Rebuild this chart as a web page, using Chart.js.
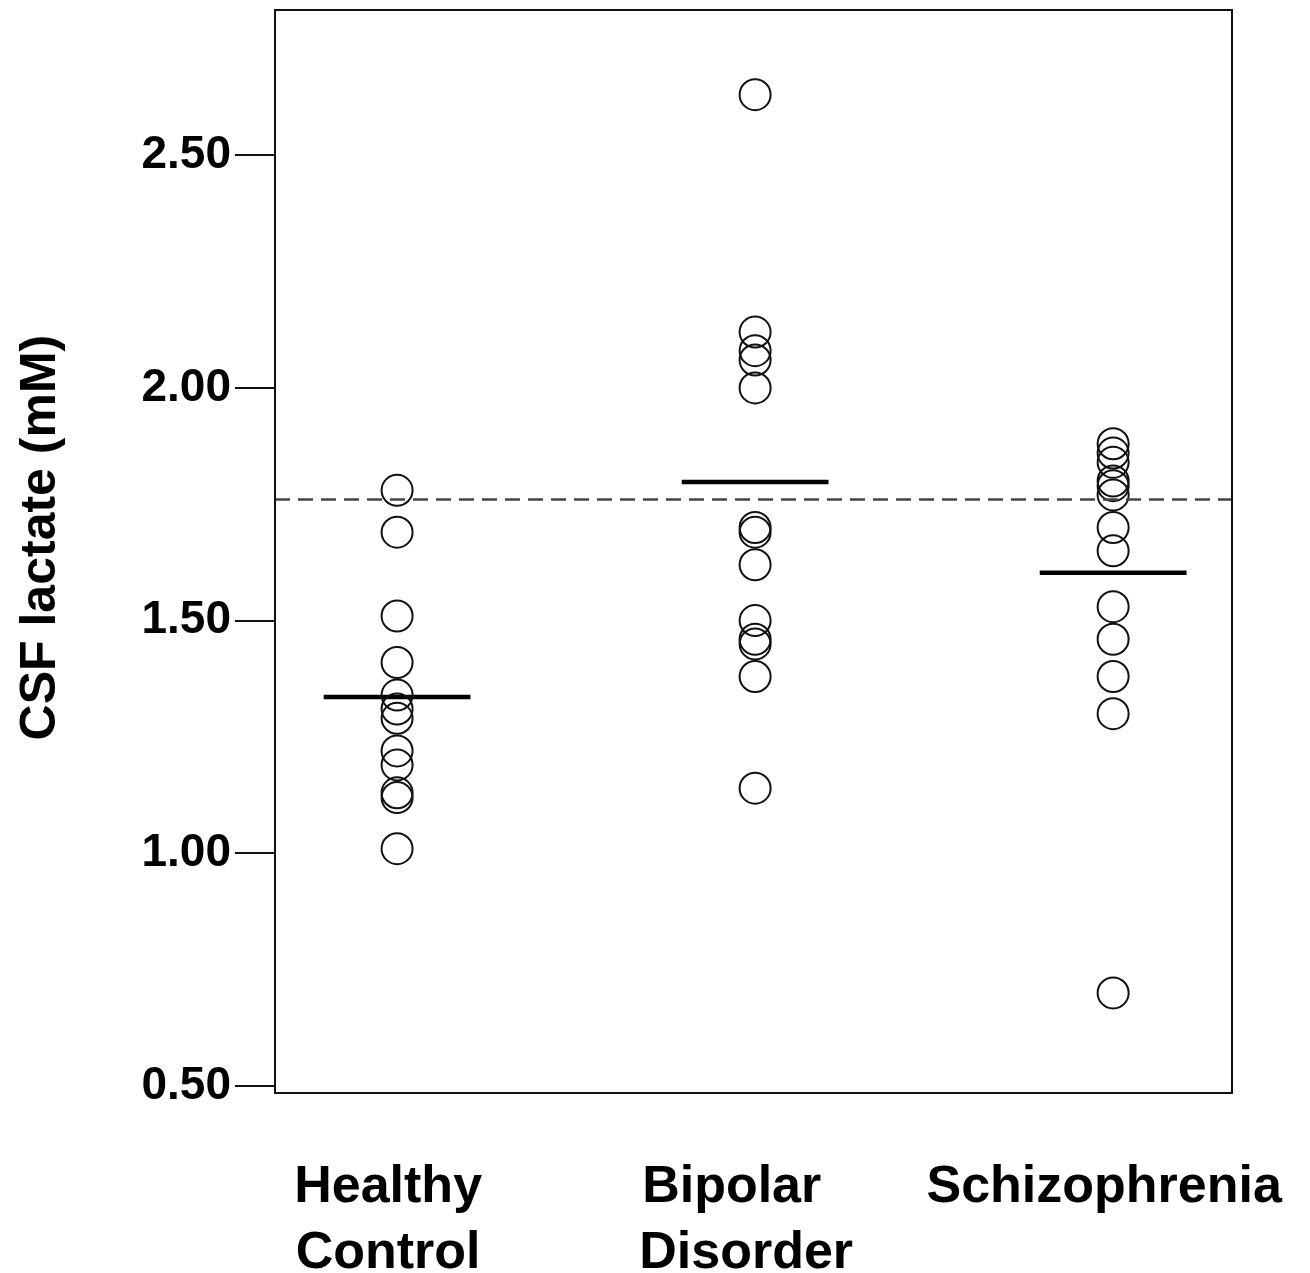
<!DOCTYPE html>
<html>
<head>
<meta charset="utf-8">
<title>CSF lactate</title>
<script src="https://cdn.jsdelivr.net/npm/chart.js@4.4.1/dist/chart.umd.min.js"></script>
<style>
    body { margin: 0; background: #ffffff; }
    #wrap { width: 1310px; height: 1273px; }
</style>
</head>
<body>
<div id="wrap"><canvas id="lactate_chart" width="1310" height="1273"></canvas></div>
<script>
// groups on the x axis (1, 2, 3)
var group_labels = [['Healthy', 'Control'], ['Bipolar  ', 'Disorder'], ['Schizophrenia']];
var group_positions = [1, 2, 3];

// CSF lactate per subject (mM)
var healthy_values = [1.78, 1.69, 1.51, 1.41, 1.34, 1.31, 1.29, 1.22, 1.19, 1.13, 1.12, 1.01];
var bipolar_values = [2.63, 2.12, 2.08, 2.06, 2.00, 1.70, 1.69, 1.62, 1.50, 1.46, 1.45, 1.38, 1.14];
var schizo_values = [1.88, 1.86, 1.84, 1.80, 1.79, 1.77, 1.70, 1.65, 1.53, 1.46, 1.38, 1.30, 0.70];

// group means (solid bars) and the dashed reference level
var group_means = [1.336, 1.798, 1.603];
var reference_level = 1.76;

var y_ticks = [0.5, 1.0, 1.5, 2.0, 2.5];
var y_min = 0.485;
var y_max = 2.812;
var x_min = 0.659;
var x_max = 3.332;
var mean_half_width = 0.205;
var label_shift = 0.025;

var font_family = '"Liberation Sans", Arial, Helvetica, sans-serif';

function points_for(group_index, values)
{
    return values.map(v => ({ x: group_positions[group_index], y: v }));
}

function mean_segment(group_index)
{
    var c = group_positions[group_index];
    return [
        { x: c - mean_half_width, y: group_means[group_index] },
        { x: c + mean_half_width, y: group_means[group_index] }
    ];
}

function circle_dataset(name, data)
{
    return {
        type: 'scatter',
        label: name,
        data: data,
        pointStyle: 'circle',
        pointRadius: 15.5,
        pointHoverRadius: 15.5,
        pointBorderWidth: 2,
        pointBackgroundColor: 'rgba(0,0,0,0)',
        pointBorderColor: '#111111',
        xAxisID: 'x',
        yAxisID: 'y'
    };
}

function line_dataset(name, data, width, color, dash)
{
    return {
        type: 'line',
        label: name,
        data: data,
        borderColor: color,
        borderWidth: width,
        borderDash: dash,
        pointRadius: 0,
        fill: false,
        xAxisID: 'x',
        yAxisID: 'y'
    };
}

// the scales reserve room for half a label at their ends; this figure does not
function no_end_padding(axis)
{
    axis.paddingTop = 0;
    axis.paddingBottom = 0;
    axis.paddingLeft = 0;
    axis.paddingRight = 0;
}

// plain box around the plot area
var frame_plugin = {
    id: 'frame',
    afterDraw(chart)
    {
        var a = chart.chartArea;
        var ctx = chart.ctx;
        ctx.save();
        ctx.strokeStyle = '#111111';
        ctx.lineWidth = 2;
        ctx.strokeRect(a.left, a.top, a.right - a.left, a.bottom - a.top);
        ctx.restore();
    }
};

var datasets = [
    line_dataset('reference', [{ x: x_min, y: reference_level }, { x: x_max, y: reference_level }], 2.5, '#444444', [15, 8]),
    circle_dataset('Healthy Control', points_for(0, healthy_values)),
    circle_dataset('Bipolar Disorder', points_for(1, bipolar_values)),
    circle_dataset('Schizophrenia', points_for(2, schizo_values)),
    line_dataset('mean HC', mean_segment(0), 4.5, '#000000', []),
    line_dataset('mean BD', mean_segment(1), 4.5, '#000000', []),
    line_dataset('mean SZ', mean_segment(2), 4.5, '#000000', [])
];

var chart_config = {
    data: { datasets: datasets },
    plugins: [frame_plugin],
    options: {
        responsive: false,
        animation: false,
        events: [],
        layout: {
            autoPadding: false,
            padding: { left: 0, top: 10, right: 78, bottom: 0 }
        },
        plugins: {
            legend: { display: false },
            tooltip: { enabled: false },
            title: { display: false }
        },
        scales: {
            x: {
                type: 'linear',
                min: x_min,
                max: x_max,
                display: false
            },
            xl: {
                type: 'linear',
                position: 'bottom',
                min: x_min + label_shift,
                max: x_max + label_shift,
                afterBuildTicks: axis => { axis.ticks = group_positions.map(v => ({ value: v })); },
                afterFit: axis => { axis.height = 180; no_end_padding(axis); },
                grid: { display: false, drawTicks: false },
                border: { display: false },
                ticks: {
                    autoSkip: false,
                    maxRotation: 0,
                    padding: 62,
                    color: '#000000',
                    font: { family: font_family, size: 52, weight: 'bold', lineHeight: 1.27 },
                    callback: function(value)
                    {
                        var i = group_positions.indexOf(value);
                        return i >= 0 ? group_labels[i] : '';
                    }
                }
            },
            y: {
                type: 'linear',
                min: y_min,
                max: y_max,
                afterBuildTicks: axis => { axis.ticks = y_ticks.map(v => ({ value: v })); },
                afterFit: axis => { axis.width = 275; no_end_padding(axis); },
                grid: {
                    display: true,
                    drawOnChartArea: false,
                    drawTicks: true,
                    tickLength: 40,
                    color: '#111111',
                    lineWidth: 2
                },
                border: { display: true, color: '#111111', width: 2 },
                ticks: {
                    padding: 4,
                    color: '#000000',
                    font: { family: font_family, size: 46, weight: 'bold' },
                    callback: value => Number(value).toFixed(2)
                },
                title: {
                    display: true,
                    text: '  CSF lactate (mM)',
                    color: '#000000',
                    padding: { top: 11, bottom: 0 },
                    font: { family: font_family, size: 50, weight: 'bold' }
                }
            }
        }
    }
};

var lactate_chart;

window.addEventListener('load', function()
{
    lactate_chart = new Chart(document.getElementById('lactate_chart'), chart_config);
});
</script>
</body>
</html>
